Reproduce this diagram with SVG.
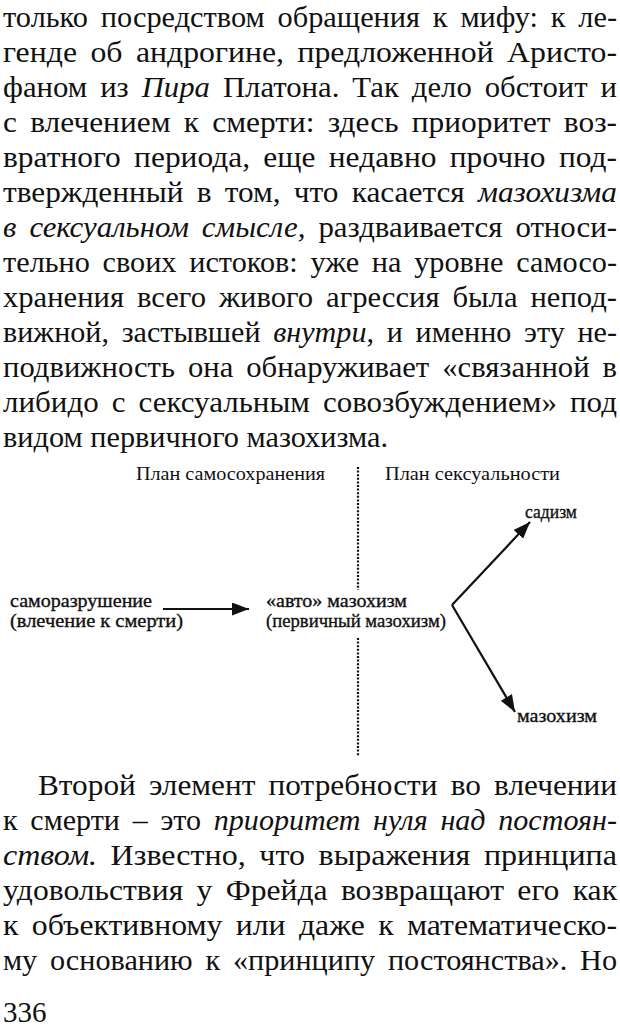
<svg xmlns="http://www.w3.org/2000/svg" width="620" height="1026" viewBox="0 0 620 1026">
<style>
.b{font-family:'Liberation Serif',serif;font-size:29px;fill:#111;word-spacing:5px}
.i{font-style:italic}
.d{font-family:'Liberation Serif',serif;font-size:19px;fill:#111;stroke:#111;stroke-width:0.35}
.c{stroke:#111;stroke-width:2.2;fill:none}
.dash{stroke:#111;stroke-width:2.2;stroke-dasharray:2 1.6;fill:none}
</style>
<defs>
<marker id="ah" markerUnits="userSpaceOnUse" markerWidth="20" markerHeight="14" refX="17" refY="6.5" orient="auto">
<path d="M0,0 L17,6.5 L0,13 z" fill="#111"/>
</marker>
</defs>
<rect width="620" height="1026" fill="#fff"/>
<g id="body-text-1">
<text class="b" x="3" y="27" textLength="614" lengthAdjust="spacingAndGlyphs">только посредством обращения к мифу: к ле-</text>
<text class="b" x="3" y="62" textLength="614" lengthAdjust="spacingAndGlyphs">генде об андрогине, предложенной Аристо-</text>
<text class="b" x="3" y="97" textLength="614" lengthAdjust="spacingAndGlyphs">фаном из <tspan class="i">Пира</tspan> Платона. Так дело обстоит и</text>
<text class="b" x="3" y="132" textLength="614" lengthAdjust="spacingAndGlyphs">с влечением к смерти: здесь приоритет воз-</text>
<text class="b" x="3" y="167" textLength="614" lengthAdjust="spacingAndGlyphs">вратного периода, еще недавно прочно под-</text>
<text class="b" x="3" y="202" textLength="614" lengthAdjust="spacingAndGlyphs">твержденный в том, что касается <tspan class="i">мазохизма</tspan></text>
<text class="b" x="3" y="237" textLength="614" lengthAdjust="spacingAndGlyphs"><tspan class="i">в сексуальном смысле,</tspan> раздваивается относи-</text>
<text class="b" x="3" y="272" textLength="614" lengthAdjust="spacingAndGlyphs">тельно своих истоков: уже на уровне самосо-</text>
<text class="b" x="3" y="307" textLength="614" lengthAdjust="spacingAndGlyphs">хранения всего живого агрессия была непод-</text>
<text class="b" x="3" y="342" textLength="614" lengthAdjust="spacingAndGlyphs">вижной, застывшей <tspan class="i">внутри</tspan>, и именно эту не-</text>
<text class="b" x="3" y="377" textLength="614" lengthAdjust="spacingAndGlyphs">подвижность она обнаруживает «связанной в</text>
<text class="b" x="3" y="412" textLength="614" lengthAdjust="spacingAndGlyphs">либидо с сексуальным совозбуждением» под</text>
<text class="b" x="3" y="447" textLength="385" lengthAdjust="spacingAndGlyphs" style="word-spacing:0">видом первичного мазохизма.</text>
</g>
<g id="plan-labels">
<text class="d" x="136" y="480" textLength="189" lengthAdjust="spacingAndGlyphs" style="stroke-width:0">План самосохранения</text>
<text class="d" x="385" y="480" textLength="175" lengthAdjust="spacingAndGlyphs" style="stroke-width:0">План сексуальности</text>
</g>
<g id="divider">
<line class="dash" x1="358" y1="467" x2="358" y2="590"/>
<line class="dash" x1="358" y1="638" x2="358" y2="756"/>
</g>
<g id="node-self-destruction">
<text class="d" x="10" y="607" textLength="142" lengthAdjust="spacingAndGlyphs">саморазрушение</text>
<text class="d" x="10" y="627" textLength="173" lengthAdjust="spacingAndGlyphs">(влечение к смерти)</text>
</g>
<g id="node-auto-masochism">
<text class="d" x="266" y="607" textLength="141" lengthAdjust="spacingAndGlyphs">«авто» мазохизм</text>
<text class="d" x="266" y="627" textLength="180" lengthAdjust="spacingAndGlyphs">(первичный мазохизм)</text>
</g>
<g id="node-sadism">
<text class="d" x="525" y="518" textLength="52" lengthAdjust="spacingAndGlyphs">садизм</text>
</g>
<g id="node-masochism">
<text class="d" x="517" y="722" textLength="80" lengthAdjust="spacingAndGlyphs">мазохизм</text>
</g>
<g id="connectors">
<line class="c" x1="163" y1="609" x2="249" y2="609" marker-end="url(#ah)"/>
<line class="c" x1="452" y1="605" x2="530" y2="522" marker-end="url(#ah)"/>
<line class="c" x1="452" y1="605" x2="515" y2="712" marker-end="url(#ah)"/>
</g>
<g id="body-text-2">
<text class="b" x="38" y="795" textLength="579" lengthAdjust="spacingAndGlyphs">Второй элемент потребности во влечении</text>
<text class="b" x="3" y="830" textLength="614" lengthAdjust="spacingAndGlyphs">к смерти – это <tspan class="i">приоритет нуля над постоян-</tspan></text>
<text class="b" x="3" y="865" textLength="614" lengthAdjust="spacingAndGlyphs"><tspan class="i">ством.</tspan> Известно, что выражения принципа</text>
<text class="b" x="3" y="900" textLength="614" lengthAdjust="spacingAndGlyphs">удовольствия у Фрейда возвращают его как</text>
<text class="b" x="3" y="935" textLength="614" lengthAdjust="spacingAndGlyphs">к объективному или даже к математическо-</text>
<text class="b" x="3" y="970" textLength="614" lengthAdjust="spacingAndGlyphs">му основанию к «принципу постоянства». Но</text>
<text class="b" x="3" y="1022">336</text>
</g>
</svg>
